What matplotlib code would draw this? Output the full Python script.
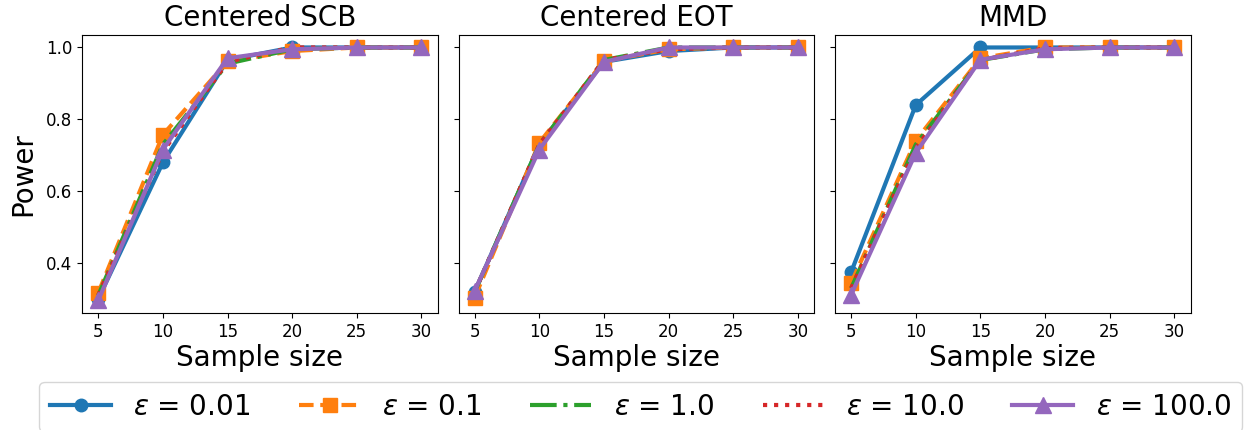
import numpy as np
import matplotlib
matplotlib.use('Agg')
import matplotlib.pyplot as plt

sizes = [5, 10, 15, 20, 25, 30]
titles = ['Centered SCB', 'Centered EOT', 'MMD']
eps_labels = ['0.01', '0.1', '1.0', '10.0', '100.0']

# power per method, one row per epsilon
scb = [
    [0.300, 0.680, 0.965, 1.000, 1.000, 1.000],
    [0.317, 0.757, 0.961, 0.990, 1.000, 1.000],
    [0.310, 0.730, 0.955, 0.995, 1.000, 1.000],
    [0.310, 0.710, 0.960, 1.000, 1.000, 1.000],
    [0.296, 0.716, 0.970, 0.995, 1.000, 1.000],
]
eot = [
    [0.320, 0.730, 0.960, 0.990, 1.000, 1.000],
    [0.304, 0.735, 0.962, 0.995, 1.000, 1.000],
    [0.320, 0.730, 0.965, 1.000, 1.000, 1.000],
    [0.320, 0.730, 0.965, 0.995, 1.000, 1.000],
    [0.323, 0.716, 0.960, 1.000, 1.000, 1.000],
]
mmd = [
    [0.375, 0.840, 1.000, 1.000, 1.000, 1.000],
    [0.345, 0.741, 0.970, 1.000, 1.000, 1.000],
    [0.330, 0.730, 0.965, 0.995, 1.000, 1.000],
    [0.330, 0.720, 0.965, 0.998, 1.000, 1.000],
    [0.312, 0.707, 0.966, 0.995, 1.000, 1.000],
]

styles = [
    dict(color='tab:blue', linestyle='-', marker='o', markersize=9),
    dict(color='tab:orange', linestyle=(0, (3.5, 1.6)), marker='s', markersize=10),
    dict(color='tab:green', linestyle='-.', marker=None),
    dict(color='tab:red', linestyle=':', marker=None),
    dict(color='tab:purple', linestyle='-', marker='^', markersize=11),
]

fig, axes = plt.subplots(1, 3, figsize=(12.44, 4.3), dpi=100, sharey=True)
fig.subplots_adjust(left=0.066, right=0.957, top=0.919, bottom=0.272, wspace=0.059)

for ax, title, data in zip(axes, titles, [scb, eot, mmd]):
    for vals, st, lab in zip(data, styles, eps_labels):
        ax.plot(sizes, vals, linewidth=3, label=r'$\varepsilon$ = ' + lab, **st)
    ax.set_title(title, fontsize=20)
    ax.set_xlabel('Sample size', fontsize=20, labelpad=2)
    ax.set_xticks(sizes)
    ax.tick_params(labelsize=12)

axes[0].set_ylabel('Power', fontsize=20, labelpad=6)
axes[0].set_yticks([0.4, 0.6, 0.8, 1.0])

handles, labels = axes[0].get_legend_handles_labels()
fig.legend(handles, labels, loc='upper center', bbox_to_anchor=(0.515, 0.145),
           ncol=5, fontsize=20, handlelength=2.2, columnspacing=1.75)

plt.savefig('out.png', dpi=100)
